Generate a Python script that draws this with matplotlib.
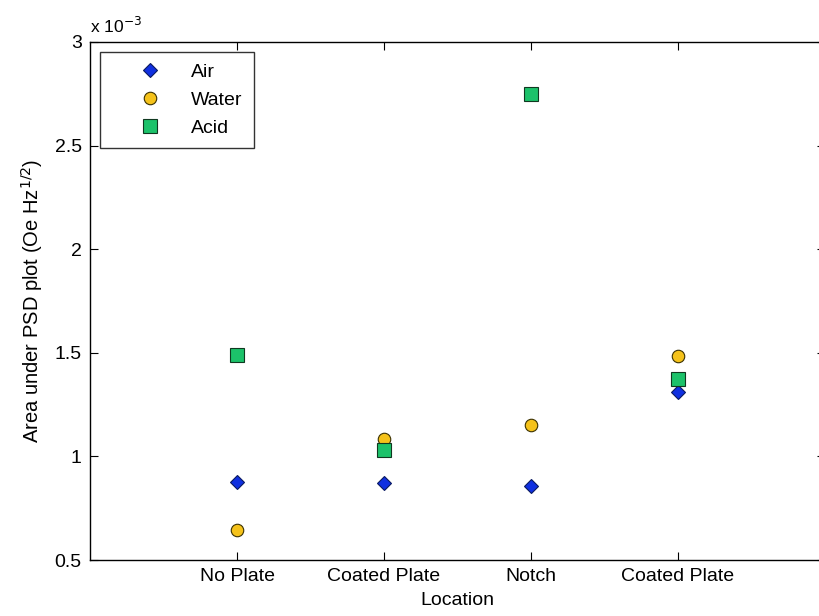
import matplotlib.pyplot as plt

plt.rcParams['font.family'] = ['Liberation Sans', 'DejaVu Sans']

# Values in units of 1e-3 (Oe Hz^1/2)
locations = ['No Plate', 'Coated Plate', 'Notch', 'Coated Plate']
air = [0.878, 0.872, 0.857, 1.31]
water = [0.645, 1.085, 1.152, 1.485]
acid = [1.49, 1.031, 2.75, 1.375]

x = list(range(1, len(locations) + 1))

fig = plt.figure(figsize=(8.19, 6.16), dpi=100)
ax = fig.add_axes([0.110, 0.0909, 0.897, 0.8411])

ax.plot(x, air, linestyle='none', marker='D', markersize=7.5, markerfacecolor='#1030e0',
        markeredgecolor='#0a1a60', markeredgewidth=0.8, label='Air')
ax.plot(x, water, linestyle='none', marker='o', markersize=9, markerfacecolor='#f5c21a',
        markeredgecolor='#3a3000', markeredgewidth=0.8, label='Water')
ax.plot(x, acid, linestyle='none', marker='s', markersize=10, markerfacecolor='#1cc26a',
        markeredgecolor='#103820', markeredgewidth=0.8, label='Acid')

ax.set_xlim(0, 5)
ax.set_ylim(0.5, 3)
ax.set_xticks(x)
ax.set_xticklabels(locations)
ax.set_yticks([0.5, 1, 1.5, 2, 2.5, 3])
ax.set_yticklabels(['0.5', '1', '1.5', '2', '2.5', '3'])
ax.tick_params(direction='in', top=True, right=True, length=6, labelsize=14, pad=6)

ax.set_xlabel('Location', fontsize=14, labelpad=5)
ax.set_ylabel('Area under PSD plot (Oe Hz$^{1/2}$)', fontsize=14.5, labelpad=7)

ax.text(0.0, 1.012, r'x 10$^{-3}$', transform=ax.transAxes, fontsize=12.5, va='bottom', ha='left')

leg = ax.legend(loc='upper left', fontsize=14, frameon=True, fancybox=False, edgecolor='black',
                borderaxespad=0.5, handletextpad=0.1, labelspacing=0.53, borderpad=0.6,
                handlelength=4.0)
leg.get_frame().set_linewidth(1.0)

for s in ax.spines.values():
    s.set_linewidth(1.0)
# the right edge of the box falls just outside the image
ax.spines['right'].set_visible(False)

fig.savefig('out.png', dpi=100)
